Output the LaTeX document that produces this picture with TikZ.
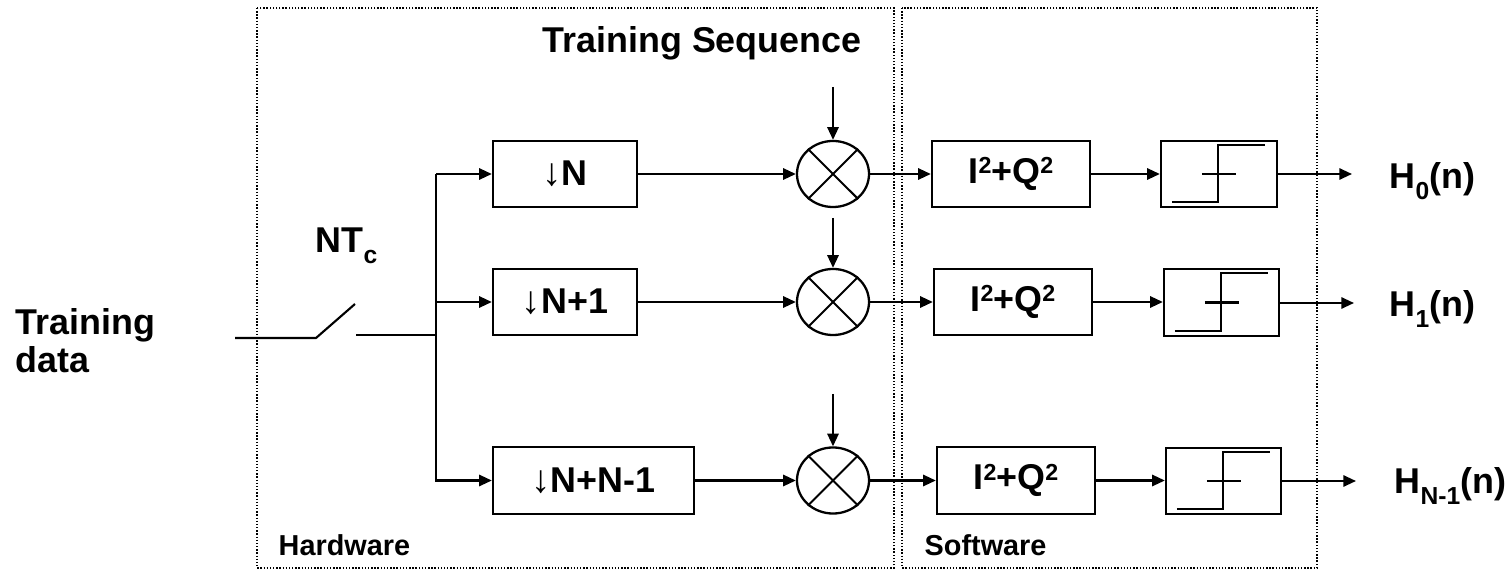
\documentclass[tikz,border=0pt]{standalone}
\usepackage{fontspec}
\setmainfont{Liberation Sans}
\usetikzlibrary{shapes.geometric,arrows.meta,calc}

% raised / lowered small indices in the label font
\newcommand\upidx[1]{\raisebox{2.7pt}{\fontsize{6.6}{8}\selectfont #1}}
\newcommand\lowidx[1]{\raisebox{-3pt}{\fontsize{7}{8}\selectfont #1}}
\newcommand\dnarrow{{\mdseries\fontsize{11}{12}\selectfont ↓}}

\tikzset{
  bigfont/.style={font=\bfseries\fontsize{10.2}{12}\selectfont},
  blk/.style={draw, line width=0.65pt, rectangle, inner sep=0pt,
              minimum height=0.665cm, bigfont},
  mix/.style={draw, line width=0.65pt, ellipse, inner sep=0pt,
              minimum width=0.72cm, minimum height=0.66cm},
  wire/.style={line width=0.6pt},
  sig/.style={wire, -{Triangle[length=3.6pt,width=3.2pt]}},
  frame/.style={line width=0.4pt, dash pattern=on 0.4pt off 0.5pt},
  lbl/.style={inner sep=0pt, bigfont},
  tag/.style={inner sep=0pt, font=\bfseries\fontsize{8.2}{10}\selectfont},
}

% step (hard limiter) symbol drawn inside a block
\newcommand\stepmark[1]{%
  \draw[wire] ($(#1.south west)+(12,-6)$) -| ($(#1.north west)+(58,5)$)
              -- ($(#1.north west)+(105,5)$);
  \draw[wire] ($(#1.west)+(42,0)$) -- ($(#1.west)+(76,0)$);}

% cross inside a multiplier
\newcommand\crossmark[1]{%
  \draw[wire] (#1.45) -- (#1.225);
  \draw[wire] (#1.135) -- (#1.315);}

\begin{document}
\begin{tikzpicture}[x=0.01cm, y=-0.01cm]
\useasboundingbox (0,0) rectangle (1508,570);

% hardware / software frames
\draw[frame] (257,8) rectangle (894,568);
\draw[frame] (902,8) rectangle (1317,568);
\node[tag, anchor=base west] (hw) at (278,555) {Hardware};
\node[tag, anchor=base west] (sw) at (924,555) {Software};

% input and sampling switch
\node[lbl, anchor=base west] (td1) at (15,335) {Training};
\node[lbl, anchor=base west] (td2) at (15,373) {data};
\node[lbl, anchor=base west] (ntc) at (315,253) {NT\lowidx{c}};
\coordinate (swin) at (235,338);
\coordinate (swpiv) at (316,338);
\coordinate (swtip) at (355,304);
\coordinate (swout) at (356,335);
\coordinate (jn) at (436,335);
\draw[wire] (swin) -- (swpiv) -- (swtip);
\draw[wire] (swout) -- (jn);

% decimators
\node[blk, minimum width=1.44cm] (d1) at (565,174) {\dnarrow N};
\node[blk, minimum width=1.44cm] (d2) at (565,302) {\dnarrow N+1};
\node[blk, minimum width=2.01cm] (d3) at (593.5,480.5) {\dnarrow N+N-1};

\coordinate (bus) at (436,174);
\draw[sig] (bus) -- (d1.west);
\draw[sig] (bus |- d2.west) -- (d2.west);
\draw[sig] (bus) |- (d3.west);

% multipliers with the training sequence
\node[lbl, anchor=base] (tseq) at (702,53) {Training Sequence};
\node[mix] (m1) at (833,174) {};
\node[mix] (m2) at (833,302) {};
\node[mix] (m3) at (833,480.5) {};
\crossmark{m1}\crossmark{m2}\crossmark{m3}
\coordinate (s1) at (833,87);
\coordinate (s2) at (833,218);
\coordinate (s3) at (833,394);
\draw[sig] (s1) -- (m1.north);
\draw[sig] (s2) -- (m2.north);
\draw[sig] (s3) -- (m3.north);
\draw[sig] (d1) -- (m1);
\draw[sig] (d2) -- (m2);
\draw[sig] (d3) -- (m3);

% energy detectors
\node[blk, minimum width=1.58cm] (p1) at (1011,174) {I\upidx{2}+Q\upidx{2}};
\node[blk, minimum width=1.58cm] (p2) at (1013,302) {I\upidx{2}+Q\upidx{2}};
\node[blk, minimum width=1.58cm] (p3) at (1016,480.5) {I\upidx{2}+Q\upidx{2}};
\draw[sig] (m1) -- (p1);
\draw[sig] (m2) -- (p2);
\draw[sig] (m3) -- (p3);

% threshold decisions
\node[blk, minimum width=1.16cm] (t1) at (1219,174) {};
\node[blk, minimum width=1.15cm] (t2) at (1221.5,302.5) {};
\node[blk, minimum width=1.15cm] (t3) at (1223.5,481) {};
\stepmark{t1}\stepmark{t2}\stepmark{t3}
\draw[sig] (p1) -- (t1);
\draw[sig] (p2.east) -- (t2.west |- p2.east);
\draw[sig] (p3.east) -- (t3.west |- p3.east);

% outputs
\coordinate (o1) at (1352,174);
\coordinate (o2) at (1354,303);
\coordinate (o3) at (1356,481);
\draw[sig] (t1.east) -- (o1);
\draw[sig] (t2.east |- o2) -- (o2);
\draw[sig] (t3.east |- o3) -- (o3);
\node[lbl, anchor=base west] (h0) at (1389,189) {H\lowidx{0}(n)};
\node[lbl, anchor=base west] (h1) at (1389,317) {H\lowidx{1}(n)};
\node[lbl, anchor=base west] (hn) at (1394,494) {H\lowidx{N-1}(n)};
\end{tikzpicture}
\end{document}
